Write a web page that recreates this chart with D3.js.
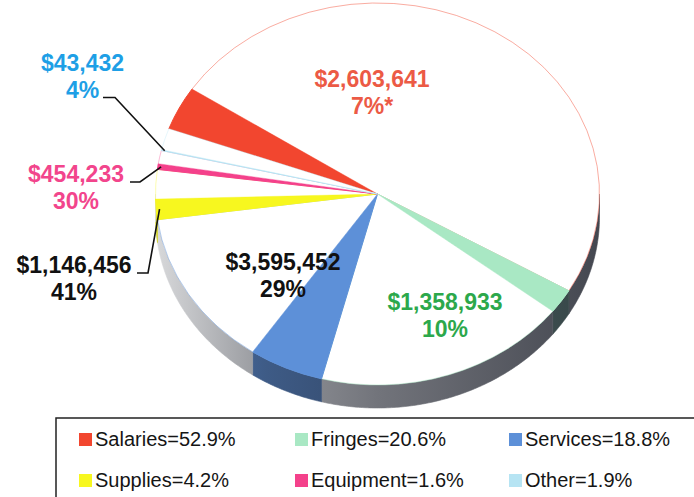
<!DOCTYPE html>
<html>
<head>
<meta charset="utf-8">
<script src="https://cdn.jsdelivr.net/npm/d3@7/dist/d3.min.js"></script>
<style>
  html, body { margin: 0; padding: 0; background: #fff; }
  svg { display: block; }
  text { font-family: "Liberation Sans", Arial, Helvetica, sans-serif; }
</style>
</head>
<body>
<svg id="chart" width="694" height="497"></svg>
<script>
// Budget categories and their share of the total (%)
const categories = ["Salaries", "Fringes", "Services", "Supplies", "Equipment", "Other"];
const shares = [52.9, 20.6, 18.8, 4.2, 1.6, 1.9];
// Dollar amount and highlighted portion (%) shown for each category
const amounts = ["$2,603,641", "$1,358,933", "$3,595,452", "$1,146,456", "$454,233", "$43,432"];
const portions = [7, 10, 29, 41, 30, 4];
const portionNotes = ["*", "", "", "", "", ""];
const colors = ["#f2462f", "#a9e8c4", "#5d90d8", "#f7f71f", "#f4418b", "#b6e4f3"];
const labelColors = ["#ec5a45", "#2ca84b", "#111111", "#111111", "#f2458c", "#1e9fe6"];

// ---- layout ----
const svg = d3.select("#chart");
const cx = 377.5, cy = 194, rx = 222, ry = 191, depth = 23;
const startDeg = -70;

const data = categories.map((c, i) => ({
  name: c, share: shares[i], amount: amounts[i], portion: portions[i],
  note: portionNotes[i], color: colors[i], labelColor: labelColors[i]
}));

const pie = d3.pie().sort(null).value(d => d.share)
  .startAngle(startDeg * Math.PI / 180)
  .endAngle((startDeg + 360) * Math.PI / 180);
const arcsData = pie(data);

// split every slice into its highlighted (coloured) part and the remainder (white)
const parts = [];
arcsData.forEach(a => {
  const mid = a.startAngle + (a.endAngle - a.startAngle) * a.data.portion / 100;
  parts.push({ d: a.data, a0: a.startAngle, a1: mid, fill: a.data.color, kind: "portion" });
  parts.push({ d: a.data, a0: mid, a1: a.endAngle, fill: "#ffffff", kind: "rest" });
});

// point on the top ellipse for a pie angle (clockwise from 12 o'clock)
const pt = (t, r = 1) => [cx + rx * r * Math.sin(t), cy - ry * r * Math.cos(t)];

// ---- shading gradients for the pie wall ----
const defs = svg.append("defs");
const darkTarget = "#1b1f2a";
const gradId = c => "wall-" + c.replace("#", "");
const wallColors = Array.from(new Set(parts.map(p => p.fill)));
const stops = [[0, 0.17], [0.25, 0.47], [0.5, 0.62], [1, 0.82]];
wallColors.forEach(c => {
  const g = defs.append("linearGradient").attr("id", gradId(c))
    .attr("gradientUnits", "userSpaceOnUse")
    .attr("x1", cx - rx).attr("x2", cx + rx).attr("y1", 0).attr("y2", 0);
  stops.forEach(([o, k]) => {
    g.append("stop").attr("offset", o).attr("stop-color", d3.interpolateRgb(c, darkTarget)(k));
  });
});

// ---- pie wall (front half only) ----
const vis0 = Math.PI / 2, vis1 = 3 * Math.PI / 2;
const line = d3.line();
const wall = svg.append("g");
parts.forEach(p => {
  const b0 = Math.max(p.a0, vis0), b1 = Math.min(p.a1, vis1);
  if (b1 <= b0) return;
  const n = Math.max(2, Math.ceil((b1 - b0) / 0.01));
  const ts = d3.range(n + 1).map(i => b0 + (b1 - b0) * i / n);
  const top = ts.map(t => pt(t));
  const bottom = ts.slice().reverse().map(t => { const q = pt(t); return [q[0], q[1] + depth]; });
  wall.append("path")
    .attr("d", line(top.concat(bottom)) + "Z")
    .attr("fill", `url(#${gradId(p.fill)})`)
    .attr("stroke", `url(#${gradId(p.fill)})`)
    .attr("stroke-width", 0.6);
});

// ---- top face ----
const face = svg.append("g")
  .attr("transform", `translate(${cx},${cy}) scale(1,${ry / rx})`);
const arc = d3.arc().innerRadius(0).outerRadius(rx);
face.selectAll("path.slice")
  .data(parts)
  .join("path")
  .attr("class", "slice")
  .attr("d", p => arc({ startAngle: p.a0, endAngle: p.a1 }))
  .attr("fill", p => p.fill)
  .attr("stroke", p => p.kind === "rest" ? p.d.color : p.fill)
  .attr("stroke-opacity", p => p.kind === "rest" ? (p.d.share > 10 ? 0.45 : 0.35) : 1)
  .attr("stroke-width", 1)
  .attr("vector-effect", "non-scaling-stroke")
  .attr("stroke-linejoin", "round");

// ---- value labels ----
const labelLayout = {
  Salaries:  { x: 372, y: 87 },
  Fringes:   { x: 445, y: 310 },
  Services:  { x: 283, y: 270 },
  Supplies:  { x: 74,  y: 273, leader: [137, 148] },
  Equipment: { x: 76,  y: 182, leader: [130, 140] },
  Other:     { x: 82.5, y: 71, leader: [103, 115], onSecond: true }
};
const lineGap = 26.5;
const labels = svg.append("g")
  .attr("font-size", 23).attr("font-weight", "bold").attr("text-anchor", "middle");

arcsData.forEach(a => {
  const d = a.data, L = labelLayout[d.name];
  const t = labels.append("text").attr("fill", d.labelColor);
  t.append("tspan").attr("x", L.x).attr("y", L.y).text(d.amount);
  t.append("tspan").attr("x", L.x).attr("y", L.y + lineGap).text(d.portion + "%" + d.note);

  if (L.leader) {
    // leader from the label to the middle of the highlighted wedge on the rim
    const mid = a.startAngle + (a.endAngle - a.startAngle) * d.portion / 200;
    const end = pt(mid, 0.985);
    const ly = L.onSecond ? L.y + lineGap : L.y;
    svg.append("path")
      .attr("d", d3.line()([[L.leader[0], ly], [L.leader[1], ly], end]))
      .attr("fill", "none").attr("stroke", "#111").attr("stroke-width", 1.6);
  }
});

// ---- legend ----
const legend = svg.append("g");
legend.append("rect")
  .attr("x", 56).attr("y", 418).attr("width", 700).attr("height", 120)
  .attr("fill", "none").attr("stroke", "#222").attr("stroke-width", 1.5);

const colX = [79, 295, 509];
const rowY = [446, 487];
const legendItems = legend.selectAll("g.item")
  .data(data)
  .join("g")
  .attr("class", "item")
  .attr("transform", (d, i) => `translate(${colX[i % 3]},${rowY[Math.floor(i / 3)]})`);
legendItems.append("rect")
  .attr("x", 0).attr("y", -13).attr("width", 13).attr("height", 13)
  .attr("fill", d => d.color);
legendItems.append("text")
  .attr("x", 16).attr("y", 0)
  .attr("font-size", 20).attr("fill", "#151515")
  .text(d => `${d.name}=${d.share}%`);
</script>
</body>
</html>
